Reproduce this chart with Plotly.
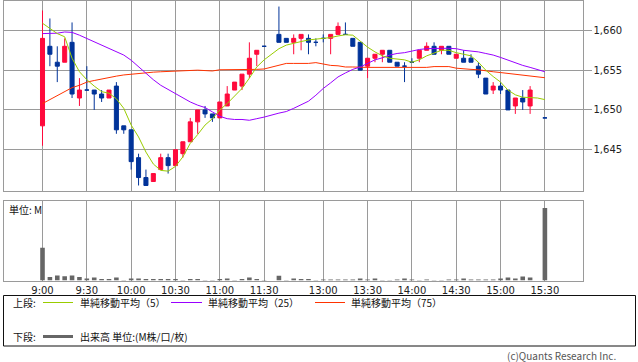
import plotly.graph_objects as go

W, H = 638, 362

# ---------------- data ----------------
slots = list(range(0, 31)) + list(range(32, 67)) + [68]
opens = [1648, 1658, 1656, 1656, 1658.5, 1651.5, 1652.5, 1652.5, 1652, 1651.5,
         1653, 1648, 1647.5, 1644, 1641.5, 1641, 1642.5, 1644, 1643, 1644.5,
         1646, 1648.5, 1650, 1649.5, 1649, 1650.5, 1652.5, 1653, 1654.5, 1657,
         1658,
         1659.5, 1659, 1658.5, 1659, 1659, 1658.5, 1659, 1659, 1659.5, 1659.5,
         1659, 1658.5, 1655.5, 1656.5, 1657, 1657.5, 1656, 1655.5, 1656, 1656.5,
         1657.5, 1658, 1657.5, 1658, 1656.5, 1656.5, 1656.5, 1655.5, 1654, 1652.5,
         1653, 1652.5, 1650.5, 1651.5, 1650.5,
         1649]
highs = [1662.5, 1661.5, 1658, 1659, 1661, 1654, 1655.5, 1652.5, 1652.5, 1652.5,
         1653.5, 1648, 1647.5, 1644.5, 1642.5, 1642, 1644.5, 1644.5, 1645, 1646,
         1649, 1650, 1650.5, 1649.5, 1651, 1653, 1653.5, 1654.5, 1658.5, 1657.5,
         1658,
         1663, 1659, 1659.5, 1659.5, 1659.5, 1659, 1659.5, 1659.5, 1661, 1661,
         1659, 1658.5, 1656.5, 1657, 1657.5, 1657.5, 1656, 1656, 1656.5, 1657.5,
         1658.5, 1658.5, 1658, 1658, 1657, 1657.5, 1657, 1656, 1654, 1653.5,
         1653.5, 1652.5, 1651.5, 1652.5, 1653,
         1649]
lows = [1645.5, 1655.5, 1653.5, 1656, 1651.5, 1650.5, 1652.5, 1650, 1651, 1651.5,
        1647, 1647, 1642.5, 1640.5, 1640.5, 1641, 1642.5, 1642, 1643, 1644,
        1646, 1647, 1649, 1648.5, 1649, 1650.5, 1652.5, 1652.5, 1654, 1655.5,
        1658,
        1658.5, 1658.5, 1657, 1657.5, 1657, 1658, 1658.5, 1657, 1659.5, 1659.5,
        1658, 1655, 1654, 1656, 1656, 1656, 1655.5, 1653.5, 1656, 1656,
        1657.5, 1657, 1657, 1657, 1656.5, 1656, 1656, 1654, 1652, 1652,
        1652, 1650, 1649.5, 1650, 1649.5,
        1649]
closes = [1659, 1657, 1655.5, 1658, 1652, 1652.5, 1652.5, 1652, 1651.5, 1652.5,
          1647.5, 1647.5, 1643.5, 1641.5, 1640.5, 1642, 1644, 1643, 1645, 1646,
          1648.5, 1650, 1649.5, 1649, 1651, 1652, 1653.5, 1654.5, 1656.5, 1657.5,
          1658,
          1658.5, 1658.5, 1659, 1659.5, 1658.5, 1658.5, 1659, 1659.5, 1660.5, 1659.5,
          1658, 1655, 1656.5, 1657, 1657.5, 1656, 1655.5, 1655.5, 1656, 1657.5,
          1658, 1657, 1658, 1657, 1657, 1656, 1656, 1654.5, 1652, 1653,
          1652.5, 1650, 1651.5, 1651, 1652.5,
          1649]
volumes = [1.65, 0.17, 0.25, 0.22, 0.25, 0.17, 0.10, 0.15, 0.07, 0.07,
           0.15, 0.03, 0.10, 0.10, 0.07, 0.07, 0.07, 0.07, 0.07, 0.03,
           0.07, 0.07, 0.03, 0.03, 0.07, 0.10, 0.03, 0.07, 0.15, 0.07,
           0.02,
           0.24, 0.03, 0.10, 0.07, 0.07, 0.03, 0.05, 0.05, 0.05, 0.05,
           0.05, 0.10, 0.05, 0.10, 0.03, 0.02, 0.05, 0.10, 0.05, 0.03,
           0.05, 0.03, 0.03, 0.05, 0.05, 0.10, 0.05, 0.05, 0.05, 0.05,
           0.10, 0.15, 0.10, 0.20, 0.15,
           3.65]

ma_slots = list(range(0, 31)) + list(range(32, 69))
sma5 = [1660.9, 1660.25, 1659.6, 1659.2, 1656.5, 1654.8, 1653.8, 1653.0, 1652.3, 1652.1,
        1651.4, 1650.2, 1648.1, 1646.6, 1644.7, 1643.2, 1642.4, 1642.3, 1642.9, 1644.1,
        1645.8, 1646.9, 1648.1, 1648.9, 1650.0, 1650.8, 1651.8, 1652.7, 1654.0, 1655.4,
        1656.3,
        1657.7, 1658.15, 1658.4, 1658.6, 1658.8, 1658.9, 1658.95, 1659.1, 1659.3, 1659.45,
        1659.4, 1658.6, 1657.9, 1657.3, 1656.8, 1656.5, 1656.4, 1656.3, 1656.0, 1656.3,
        1656.8, 1657.2, 1657.5, 1657.5, 1657.2, 1657.0, 1656.8, 1656.0, 1655.0, 1654.2,
        1653.5, 1652.5, 1651.9, 1651.6, 1651.55, 1651.5, 1651.3]
sma25 = [1659.6, 1659.6, 1659.65, 1659.8, 1659.75, 1659.4, 1659.0, 1658.55, 1658.15, 1657.7,
         1657.3, 1656.9, 1656.25, 1655.4, 1654.6, 1653.8, 1653.1, 1652.55, 1652.05, 1651.55,
         1651.0, 1650.6, 1650.3, 1649.75, 1649.2, 1648.9, 1648.8, 1648.8, 1648.7, 1648.9,
         1649.1,
         1649.6, 1649.8, 1650.2, 1650.6, 1651.1, 1651.85, 1652.7, 1653.4, 1654.15, 1654.65,
         1655.1, 1655.4, 1655.9, 1656.3, 1656.55, 1656.9, 1657.1, 1657.2, 1657.4, 1657.6,
         1657.7, 1657.75, 1657.75, 1657.75, 1657.7, 1657.5, 1657.4, 1657.3, 1657.1, 1656.9,
         1656.6, 1656.25, 1655.9, 1655.6, 1655.35, 1655.1, 1654.8]
sma75 = [1650.8, 1651.3, 1651.7, 1652.25, 1652.8, 1653.1, 1653.5, 1653.7, 1653.9, 1654.1,
         1654.25, 1654.4, 1654.5, 1654.6, 1654.65, 1654.75, 1654.8, 1654.85, 1654.9, 1654.9,
         1654.95, 1655.0, 1654.95, 1654.9, 1655.05, 1655.05, 1655.05, 1655.05, 1655.1, 1655.1,
         1655.15,
         1655.6, 1655.85, 1655.85, 1655.85, 1655.85, 1655.95, 1655.75, 1655.6, 1655.55, 1655.4,
         1655.4, 1655.35, 1655.35, 1655.35, 1655.35, 1655.35, 1655.35, 1655.35, 1655.35, 1655.35,
         1655.35, 1655.45, 1655.45, 1655.45, 1655.25, 1655.15, 1655.1, 1655.05, 1654.9, 1654.8,
         1654.7, 1654.6, 1654.5, 1654.4, 1654.3, 1654.2, 1654.05]

tick_slots = [0, 6, 12, 18, 24, 30, 38, 44, 50, 56, 62, 68]
tick_labels = ["9:00", "9:30", "10:00", "10:30", "11:00", "11:30",
               "13:00", "13:30", "14:00", "14:30", "15:00", "15:30"]
price_ticks = [1645, 1650, 1655, 1660]
price_tick_labels = ["{:,}".format(p) for p in price_ticks]

legend_labels = ["単純移動平均（5）", "単純移動平均（25）", "単純移動平均（75）"]
volume_label = "出来高 単位:(M株/口/枚)"

# ---------------- style ----------------
UP = "#ff0a3c"
DN = "#003399"
C5 = "#99cc00"
C25 = "#9900ff"
C75 = "#ff3300"
VOL = "#666666"
GRID = "#9a9a9a"
NUMFONT = "DejaVu Sans"
JPFONT = "Noto Sans CJK JP"


def px(x):
    return x / W


def py(y):
    return 1 - y / H


fig = go.Figure()

up_idx = [i for i in range(len(slots)) if closes[i] > opens[i]]
dn_idx = [i for i in range(len(slots)) if closes[i] <= opens[i]]

for idx, col in ((up_idx, UP), (dn_idx, DN)):
    fig.add_trace(go.Candlestick(
        x=[slots[i] for i in idx],
        open=[opens[i] for i in idx],
        high=[highs[i] for i in idx],
        low=[lows[i] for i in idx],
        close=[closes[i] for i in idx],
        increasing=dict(line=dict(color=col, width=1), fillcolor=col),
        decreasing=dict(line=dict(color=col, width=1), fillcolor=col),
        whiskerwidth=0, xaxis="x", yaxis="y", showlegend=False,
        hoverinfo="skip"))

for vals, col in ((sma75, C75), (sma25, C25), (sma5, C5)):
    fig.add_trace(go.Scatter(x=ma_slots, y=vals, mode="lines",
                             line=dict(color=col, width=1),
                             xaxis="x", yaxis="y", showlegend=False,
                             hoverinfo="skip"))

fig.add_trace(go.Bar(x=slots, y=volumes, marker=dict(color=VOL, line=dict(width=0)),
                     width=0.62, xaxis="x2", yaxis="y2", showlegend=False,
                     hoverinfo="skip"))

xr = [-5.28, 73.09]
xdom = [px(3.5), px(582.5)]

common_x = dict(range=xr, domain=xdom, tickmode="array", tickvals=tick_slots,
                showgrid=True, gridcolor=GRID, gridwidth=1, zeroline=False,
                showline=True, linecolor=GRID, linewidth=1, mirror=True,
                fixedrange=True)

fig.update_layout(
    width=W, height=H,
    margin=dict(l=0, r=0, t=0, b=0),
    paper_bgcolor="white", plot_bgcolor="white",
    boxgap=0.22,
    showlegend=False,
    xaxis=dict(**common_x, anchor="y", showticklabels=False,
               rangeslider=dict(visible=False)),
    yaxis=dict(domain=[py(190.5), py(0.5)], range=[1639.87, 1663.76],
               side="right", anchor="x", tickmode="array",
               tickvals=price_ticks, ticktext=price_tick_labels,
               ticks="outside", ticklen=8, tickcolor=GRID,
               tickfont=dict(family=NUMFONT, size=10, color="#222"),
               showgrid=True, gridcolor=GRID, gridwidth=1, zeroline=False,
               showline=True, linecolor=GRID, mirror=True, fixedrange=True),
    xaxis2=dict(**common_x, anchor="y2", ticktext=tick_labels,
                showticklabels=True, ticks="",
                tickfont=dict(family=NUMFONT, size=10, color="#222")),
    yaxis2=dict(domain=[py(280.5), py(201)], range=[0, 4.0], anchor="x2",
                showticklabels=False, showgrid=False, zeroline=False,
                showline=True, linecolor=GRID, mirror=True, fixedrange=True),
)

shapes = []
annotations = []

# legend frame
shapes.append(dict(type="rect", xref="paper", yref="paper",
                   x0=px(3.5), x1=px(635.5), y0=py(346), y1=py(295.5),
                   line=dict(color="#111", width=1), fillcolor="rgba(0,0,0,0)"))

row1, row2 = 302.5, 336.5
annotations.append(dict(x=px(11), y=py(row1), text="上段:", showarrow=False,
                        xref="paper", yref="paper", xanchor="left", yanchor="middle",
                        font=dict(family=JPFONT, size=10, color="#111")))
annotations.append(dict(x=px(11), y=py(row2), text="下段:", showarrow=False,
                        xref="paper", yref="paper", xanchor="left", yanchor="middle",
                        font=dict(family=JPFONT, size=10, color="#111")))

for (lx0, lx1, tx), col, lab in zip(((43, 73, 78), (171, 202, 206), (315, 345, 349)),
                                    (C5, C25, C75), legend_labels):
    shapes.append(dict(type="line", xref="paper", yref="paper",
                       x0=px(lx0), x1=px(lx1), y0=py(row1), y1=py(row1),
                       line=dict(color=col, width=1)))
    annotations.append(dict(x=px(tx), y=py(row1), text=lab, showarrow=False,
                            xref="paper", yref="paper", xanchor="left", yanchor="middle",
                            font=dict(family=JPFONT, size=10, color="#111")))

shapes.append(dict(type="line", xref="paper", yref="paper",
                   x0=px(43), x1=px(73), y0=py(row2), y1=py(row2),
                   line=dict(color=VOL, width=3)))
annotations.append(dict(x=px(78), y=py(row2), text=volume_label, showarrow=False,
                        xref="paper", yref="paper", xanchor="left", yanchor="middle",
                        font=dict(family=JPFONT, size=10, color="#111")))

annotations.append(dict(x=px(7), y=py(209.5), text="単位: M", showarrow=False,
                        xref="paper", yref="paper", xanchor="left", yanchor="middle",
                        font=dict(family=JPFONT, size=10, color="#111")))

annotations.append(dict(x=px(618), y=py(355), text="(c)Quants Research Inc.",
                        showarrow=False, xref="paper", yref="paper",
                        xanchor="right", yanchor="middle",
                        font=dict(family=JPFONT, size=10, color="#555")))

fig.update_layout(shapes=shapes, annotations=annotations)

fig.write_html("out.html",
               config={"displayModeBar": False, "staticPlot": True},
               post_script="document.body.style.margin='0px';"
                           "document.body.style.overflow='hidden';")
